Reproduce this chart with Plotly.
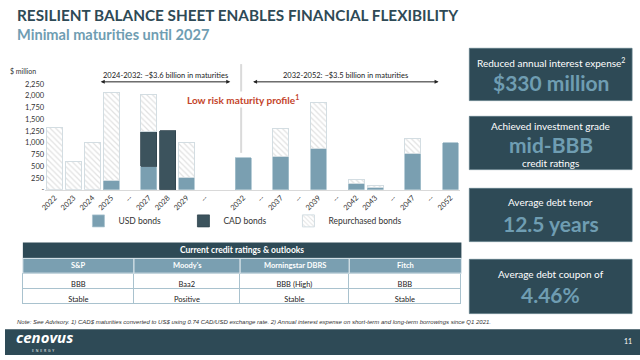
import plotly.graph_objects as go

W, H = 640, 360

# ---- data ----
slots = ["2022", "2023", "2024", "2025", "g1", "2027", "2028", "2029", "g2", "g3",
         "2032", "g4", "2037", "g5", "2039", "g6", "2042", "2043", "g7", "2047", "g8", "2052"]
tick_labels = ["2022", "2023", "2024", "2025", "--", "2027", "2028", "2029", "--", "",
               "2032", "--", "2037", "--", "2039", "--", "2042", "2043", "--", "2047", "--", "2052"]
usd_bonds = [None, None, None, 190, None, 500, None, 250, None, None,
             680, None, 700, None, 880, None, 135, 55, None, 760, None, 1000]
cad_bonds = [None, None, None, None, None, 750, 1260, None, None, None,
             None, None, None, None, None, None, None, None, None, None, None, None]
repurchased = [1330, 610, 1000, 1890, None, 780, None, 750, None, None,
               None, None, 600, None, 980, None, 80, 30, None, 320, None, None]
y_ticks = [0, 250, 500, 750, 1000, 1250, 1500, 1750, 2000, 2250]
y_tick_text = ["-", "250", "500", "750", "1,000", "1,250", "1,500", "1,750", "2,000", "2,250"]

agencies = ["S&P", "Moody's", "Morningstar DBRS", "Fitch"]
ratings = ["BBB", "Baa2", "BBB (High)", "BBB"]
outlooks = ["Stable", "Positive", "Stable", "Stable"]
col_widths = [112, 107, 110, 113]

DARK = "#2E4A56"
USD_C = "#7A9FB1"
CAD_C = "#3C535D"
LIGHT = "#6F9DB2"
FONT = "Lato"


def px(x):
    return x / W


def py(y):
    return 1 - y / H


def note(x, y, text, size, color, family=FONT, xa="center", ya="middle", **kw):
    d = dict(xref="paper", yref="paper", x=px(x), y=py(y), xanchor=xa, yanchor=ya,
             showarrow=False, text=text, font=dict(family=family, size=size, color=color))
    d.update(kw)
    return d


fig = go.Figure()
fig.add_bar(x=slots, y=usd_bonds, name="USD bonds",
            marker=dict(color=USD_C, line=dict(color="#A8C2CE", width=0.8)))
fig.add_bar(x=slots, y=cad_bonds, name="CAD bonds",
            marker=dict(color=CAD_C, line=dict(color="#2F444D", width=0.8)))
fig.add_bar(x=slots, y=repurchased, name="Repurchased bonds",
            marker=dict(color="white", line=dict(color="#D3DDE2", width=1),
                        pattern=dict(shape="\\", fgcolor="#C4C4C4", bgcolor="white",
                                     size=4, solidity=0.3)))
# empty legend spacer so the last legend label is not clipped
fig.add_bar(x=[slots[0]], y=[None], name=" ", hoverinfo="skip",
            marker=dict(color="rgba(0,0,0,0)", line=dict(width=0)))

# credit ratings table: ratings row + outlooks row
TX0, TX1 = 18, 460
fig.add_trace(go.Table(
    domain=dict(x=[px(TX0), px(TX1)], y=[py(330), py(277)]),
    columnwidth=col_widths,
    header=dict(values=ratings, fill_color="white",
                line=dict(color="#A9C2CE", width=1),
                font=dict(family=FONT, size=7.5, color="#222"), height=15, align="center"),
    cells=dict(values=[[o] for o in outlooks], fill_color="white",
               line=dict(color="#A9C2CE", width=1),
               font=dict(family=FONT, size=7.5, color="#222"), height=15, align="center")))

shapes = []
annotations = []

# table title bar and agency row
shapes.append(dict(type="rect", xref="paper", yref="paper", x0=px(TX0), x1=px(TX1),
                   y0=py(262), y1=py(246), fillcolor=DARK, line=dict(width=0)))
annotations.append(note((TX0 + TX1) / 2, 254, "<b>Current credit ratings & outlooks</b>", 8.5, "white"))
scale = (TX1 - TX0) / sum(col_widths)
cx = TX0
for name, w in zip(agencies, col_widths):
    w_px = w * scale
    shapes.append(dict(type="rect", xref="paper", yref="paper", x0=px(cx), x1=px(cx + w_px),
                       y0=py(277), y1=py(262), fillcolor=USD_C,
                       line=dict(color="#DCE6EB", width=1)))
    annotations.append(note(cx + w_px / 2, 269.5, "<b>%s</b>" % name, 7.5, "white"))
    cx += w_px

# separator line
shapes.append(dict(type="line", xref="paper", yref="paper", x0=px(238), x1=px(238),
                   y0=py(65), y1=py(155), line=dict(color="#DADADA", width=2), layer="below"))
annotations.append(note(240, 101, "<b>Low risk maturity profile<sup>1</sup></b>", 10,
                        "#C4442A", bgcolor="white"))

# range annotations
for (x0, x1, label) in [(96, 227, "2024-2032: ~$3.6 billion in maturities"),
                         (250, 437, "2032-2052: ~$3.5 billion in maturities")]:
    annotations.append(note((x0 + x1) / 2, 76.5, label, 7.5, "#222"))
    annotations.append(dict(xref="paper", yref="paper", x=px(x1), y=py(83), ax=-(x1 - x0), ay=0,
                            axref="pixel", ayref="pixel", text="", showarrow=True,
                            arrowhead=2, startarrowhead=2, arrowside="end+start",
                            arrowsize=0.8, startarrowsize=0.8, arrowwidth=1, arrowcolor="#222"))

annotations.append(note(33, 72, "$ million", 7, "#333", xa="right"))

# titles
annotations.append(note(10, 15, "<b>RESILIENT BALANCE SHEET ENABLES FINANCIAL FLEXIBILITY</b>",
                        15.3, DARK, xa="left"))
annotations.append(note(10, 35, "<b>Minimal maturities until 2027</b>", 14.6, LIGHT, xa="left"))

# right boxes
boxes = [
    (49, 102, [("Reduced annual interest expense<sup>2</sup>", 63, 10, False),
               ("$330 million", 84, 21, True)]),
    (118, 172, [("Achieved investment grade", 128, 10, False),
                ("mid-BBB", 147, 21, True),
                ("credit ratings", 165, 10, False)]),
    (191, 245, [("Average debt tenor", 205, 10, False),
                ("12.5 years", 227, 21, True)]),
    (263, 318, [("Average debt coupon of", 278, 10, False),
                ("4.46%", 299, 21, True)]),
]
for (t, b, lines) in boxes:
    shapes.append(dict(type="rect", xref="paper", yref="paper", x0=px(468), x1=px(632),
                       y0=py(b), y1=py(t), fillcolor=DARK, line=dict(color="#5C7884", width=0.8)))
    for (txt, yy, sz, big) in lines:
        annotations.append(note(550, yy, "<b>%s</b>" % txt if big else txt, sz,
                                LIGHT if big else "white"))

# note
annotations.append(note(10, 327,
                        "<i>Note: See Advisory. 1) CAD$ maturities converted to US$ using 0.74 CAD/USD exchange rate. "
                        "2) Annual interest expense on short-term and long-term borrowings since Q1 2021.</i>",
                        6.0, "#333", family="Liberation Sans", xa="left"))

# footer
shapes.append(dict(type="rect", xref="paper", yref="paper", x0=0, x1=1, y0=0, y1=py(334),
                   fillcolor=DARK, line=dict(width=0), layer="above"))
annotations.append(note(9, 342, "<b><i>cenovus</i></b>", 15, "white", family="Open Sans", xa="left"))
annotations.append(note(38, 355, "E  N  E  R  G  Y", 3.5, "white", family="Open Sans"))
annotations.append(note(628, 346, "11", 7, "white"))

fig.update_layout(
    width=W, height=H, margin=dict(l=0, r=0, t=0, b=0), autosize=False,
    paper_bgcolor="white", plot_bgcolor="white",
    barmode="stack", bargap=0.16,
    font=dict(family=FONT, color="#333"),
    xaxis=dict(domain=[px(40.5), px(458.5)], type="category", categoryorder="array",
               categoryarray=slots, tickmode="array", tickvals=slots, ticktext=tick_labels,
               tickangle=-45, tickfont=dict(family=FONT, size=7.5, color="#333"),
               showline=True, linecolor="#D9D9D9", linewidth=1, ticks="", showgrid=False),
    yaxis=dict(domain=[py(192.3), py(73.4)], range=[0, 2500], tickmode="array",
               tickvals=y_ticks, ticktext=y_tick_text, showgrid=False, zeroline=False,
               tickfont=dict(family=FONT, size=7.5, color="#333"), ticks=""),
    legend=dict(orientation="h", x=px(74), y=py(224), xanchor="left", yanchor="middle",
                traceorder="normal",
                font=dict(family=FONT, size=8.5, color="#333"), entrywidth=60,
                entrywidthmode="pixels", bgcolor="rgba(0,0,0,0)"),
    shapes=shapes, annotations=annotations,
)

fig.write_html("out.html", config={"displayModeBar": False},
               post_script="document.body.style.margin='0';")
